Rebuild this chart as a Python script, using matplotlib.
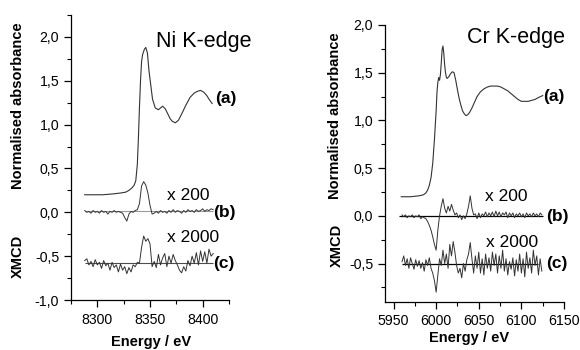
import matplotlib
matplotlib.use("Agg")
import matplotlib.pyplot as plt
from matplotlib.ticker import MultipleLocator, FuncFormatter

plt.rcParams['font.family'] = ['Liberation Sans', 'DejaVu Sans']

# ---- Ni K-edge data ----
ni_a_e = [8288, 8295, 8305, 8315, 8322, 8327, 8330, 8333, 8335, 8336.5, 8338, 8339, 8340, 8341,
          8342, 8343, 8344.7, 8346, 8347.5, 8349, 8350, 8352.4, 8355, 8358, 8360, 8362, 8364.5,
          8367, 8369, 8371, 8374, 8377, 8380, 8384, 8388, 8392, 8395, 8398, 8401, 8404, 8406, 8409]
ni_a = [0.20, 0.20, 0.20, 0.21, 0.22, 0.23, 0.25, 0.28, 0.31, 0.36, 0.55, 0.85, 1.20, 1.50,
        1.72, 1.80, 1.86, 1.88, 1.82, 1.62, 1.52, 1.29, 1.19, 1.17, 1.19, 1.21, 1.18,
        1.12, 1.07, 1.04, 1.02, 1.05, 1.12, 1.22, 1.31, 1.36, 1.38, 1.39, 1.37, 1.33, 1.29, 1.24]

ni_e = list(range(8288, 8411, 2))
ni_b = [0.02, 0.00, 0.01, -0.01, 0.02, 0.00, 0.01, -0.01, 0.02, 0.00, 0.01, -0.02, 0.01, 0.00,
        0.02, 0.00, 0.01, 0.00, -0.01, -0.06, -0.10, -0.02, 0.01, 0.00, 0.02, 0.03, 0.10, 0.30,
        0.35, 0.31, 0.22, 0.08, -0.02, -0.01, 0.01, -0.01, 0.02, 0.00, 0.01, -0.01, 0.02, 0.00,
        0.03, 0.00, 0.02, 0.01, -0.01, 0.02, 0.00, 0.03, 0.01, 0.02, 0.00, 0.03, 0.01, 0.02,
        0.04, 0.01, 0.03, 0.02, 0.04, 0.03]
ni_c = [-0.55, -0.53, -0.60, -0.56, -0.62, -0.54, -0.60, -0.57, -0.64, -0.55, -0.61, -0.58,
        -0.66, -0.57, -0.63, -0.60, -0.68, -0.59, -0.66, -0.62, -0.70, -0.63, -0.68, -0.60,
        -0.62, -0.57, -0.58, -0.40, -0.27, -0.33, -0.30, -0.36, -0.62, -0.56, -0.63, -0.48,
        -0.60, -0.52, -0.47, -0.62, -0.50, -0.58, -0.48, -0.55, -0.60, -0.66, -0.69, -0.62,
        -0.67, -0.55, -0.61, -0.50, -0.58, -0.46, -0.60, -0.44, -0.56, -0.45, -0.58, -0.42,
        -0.50, -0.47]
ni_base_b = 0.018
ni_base_c = -0.58

# ---- Cr K-edge data ----
cr_a_e = [5959, 5970, 5980, 5985, 5988, 5990, 5992, 5994, 5996, 5998, 5999, 6000, 6001, 6002,
          6003, 6004, 6005, 6006, 6007, 6008, 6009, 6010, 6011, 6012, 6013, 6015, 6017, 6019,
          6021, 6023, 6025, 6027, 6029, 6031, 6033, 6035, 6037, 6039, 6042, 6045, 6048, 6052,
          6056, 6060, 6064, 6068, 6072, 6076, 6080, 6084, 6088, 6092, 6096, 6100, 6104, 6108,
          6112, 6116, 6120, 6125]
cr_a = [0.20, 0.20, 0.21, 0.22, 0.24, 0.27, 0.32, 0.40, 0.55, 0.80, 0.95, 1.10, 1.30, 1.40,
        1.45, 1.42, 1.48, 1.60, 1.74, 1.78, 1.70, 1.58, 1.50, 1.45, 1.44, 1.46, 1.49, 1.51,
        1.50, 1.42, 1.32, 1.23, 1.16, 1.10, 1.07, 1.05, 1.06, 1.08, 1.13, 1.19, 1.25, 1.30,
        1.33, 1.35, 1.36, 1.36, 1.36, 1.35, 1.33, 1.31, 1.28, 1.25, 1.22, 1.20, 1.20, 1.20,
        1.21, 1.22, 1.24, 1.26]

cr_e = list(range(5960, 6125, 2))
cr_b = [0.01, -0.01, 0.01, -0.02, 0.00, -0.01, 0.01, -0.02, 0.00, -0.01, 0.01, -0.03, -0.01,
        -0.02, -0.03, -0.06, -0.10, -0.15, -0.22, -0.30, -0.36, -0.15, 0.00, 0.10, 0.18, 0.08,
        0.03, 0.10, 0.05, 0.12, 0.06, 0.01, 0.03, -0.02, 0.01, -0.04, 0.00, -0.03, 0.02, 0.10,
        0.21, 0.08, 0.01, 0.02, -0.03, 0.03, -0.02, 0.02, 0.00, 0.04, -0.01, 0.03, 0.00, 0.04,
        -0.01, 0.05, 0.00, 0.04, -0.01, 0.03, 0.01, 0.04, -0.02, 0.03, 0.00, 0.03, -0.02, 0.02,
        0.00, 0.03, -0.01, 0.02, -0.02, 0.03, 0.00, 0.02, -0.01, 0.03, 0.00, 0.02, -0.01, 0.03,
        0.01]
cr_c = [-0.48, -0.42, -0.52, -0.45, -0.55, -0.44, -0.50, -0.56, -0.46, -0.53, -0.47, -0.55,
        -0.49, -0.58, -0.46, -0.52, -0.44, -0.55, -0.60, -0.68, -0.80, -0.62, -0.45, -0.52,
        -0.36, -0.50, -0.40, -0.55, -0.30, -0.42, -0.27, -0.38, -0.52, -0.60, -0.55, -0.65,
        -0.50, -0.58, -0.46, -0.40, -0.28, -0.45, -0.60, -0.42, -0.55, -0.38, -0.60, -0.45,
        -0.62, -0.40, -0.55, -0.44, -0.58, -0.38, -0.52, -0.40, -0.60, -0.42, -0.55, -0.36,
        -0.58, -0.45, -0.62, -0.48, -0.56, -0.44, -0.63, -0.46, -0.58, -0.40, -0.60, -0.45,
        -0.64, -0.38, -0.55, -0.44, -0.60, -0.36, -0.52, -0.42, -0.62, -0.45, -0.58]
cr_base_b = 0.0
cr_base_c = -0.5

comma = FuncFormatter(lambda v, p: f"{v:.1f}".replace('.', ','))

fig = plt.figure(figsize=(5.8, 3.5), dpi=100)
ax1 = fig.add_axes([71/580, 1-300/350, 158/580, 285/350])
ax2 = fig.add_axes([385/580, 1-301.7/350, 179/580, 276.7/350])

def style(ax, xlim, ylim):
    ax.set_xlim(*xlim)
    ax.set_ylim(*ylim)
    for s in ['top', 'right']:
        ax.spines[s].set_visible(False)
    for s in ['left', 'bottom']:
        ax.spines[s].set_linewidth(0.9)
    ax.xaxis.set_major_locator(MultipleLocator(50))
    ax.xaxis.set_minor_locator(MultipleLocator(25))
    ax.yaxis.set_major_locator(MultipleLocator(0.5))
    ax.yaxis.set_minor_locator(MultipleLocator(0.25))
    ax.yaxis.set_major_formatter(comma)
    ax.tick_params(which='major', direction='out', length=5, width=0.9, labelsize=10.2, pad=3.5)
    ax.tick_params(which='minor', direction='out', length=3, width=0.8)
    ax.tick_params(axis='x', pad=4)

# Ni panel
style(ax1, (8275, 8425), (-1.0, 2.25))
ax1.hlines(ni_base_b, ni_e[0], ni_e[-1], color='0.6', lw=0.8)
ax1.hlines(ni_base_c, ni_e[0], ni_e[-1], color='0.3', lw=0.8)
ax1.plot(ni_a_e, ni_a, color='0.2', lw=0.8)
ax1.plot(ni_e, ni_b, color='0.2', lw=0.7)
ax1.plot(ni_e, ni_c, color='0.2', lw=0.7)
ax1.text(8401, 1.95, "Ni K-edge", fontsize=15.5, ha='center', va='center')
ax1.text(8412, 1.30, "(a)", fontsize=12.5, fontweight='bold', va='center')
ax1.text(8386, 0.19, "x 200", fontsize=12.5, ha='center', va='center')
ax1.text(8410, 0.00, "(b)", fontsize=12.5, fontweight='bold', va='center')
ax1.text(8391, -0.29, "x 2000", fontsize=12.5, ha='center', va='center')
ax1.text(8410, -0.58, "(c)", fontsize=12.5, fontweight='bold', va='center')

# Cr panel
style(ax2, (5940, 6150), (-0.9, 2.0))
ax2.hlines(cr_base_b, 5957, 6125, color='k', lw=0.9)
ax2.hlines(cr_base_c, 5960, 6119, color='k', lw=0.9)
ax2.plot(cr_a_e, cr_a, color='0.2', lw=0.8)
ax2.plot(cr_e, cr_b, color='0.2', lw=0.7)
ax2.plot(cr_e, cr_c, color='0.2', lw=0.7)
ax2.text(6093.5, 1.87, "Cr K-edge", fontsize=15.5, ha='center', va='center')
ax2.text(6126, 1.25, "(a)", fontsize=12.5, fontweight='bold', va='center')
ax2.text(6082.5, 0.20, "x 200", fontsize=12.5, ha='center', va='center')
ax2.text(6129, -0.01, "(b)", fontsize=12.5, fontweight='bold', va='center')
ax2.text(6089.5, -0.28, "x 2000", fontsize=12.5, ha='center', va='center')
ax2.text(6129, -0.50, "(c)", fontsize=12.5, fontweight='bold', va='center')

# axis labels
lab = dict(fontsize=10.5, fontweight='bold', ha='center', va='center')
fig.text(18/580, 1-106/350, "Normalised absorbance", rotation=90, **lab)
fig.text(18/580, 1-256/350, "XMCD", rotation=90, **lab)
fig.text(335/580, 1-116/350, "Normalised absorbance", rotation=90, **lab)
fig.text(337/580, 1-245/350, "XMCD", rotation=90, **lab)
fig.text(151/580, 1-342/350, "Energy / eV", **lab)
fig.text(469/580, 1-338/350, "Energy / eV", **lab)

fig.savefig("out.png", dpi=100)
